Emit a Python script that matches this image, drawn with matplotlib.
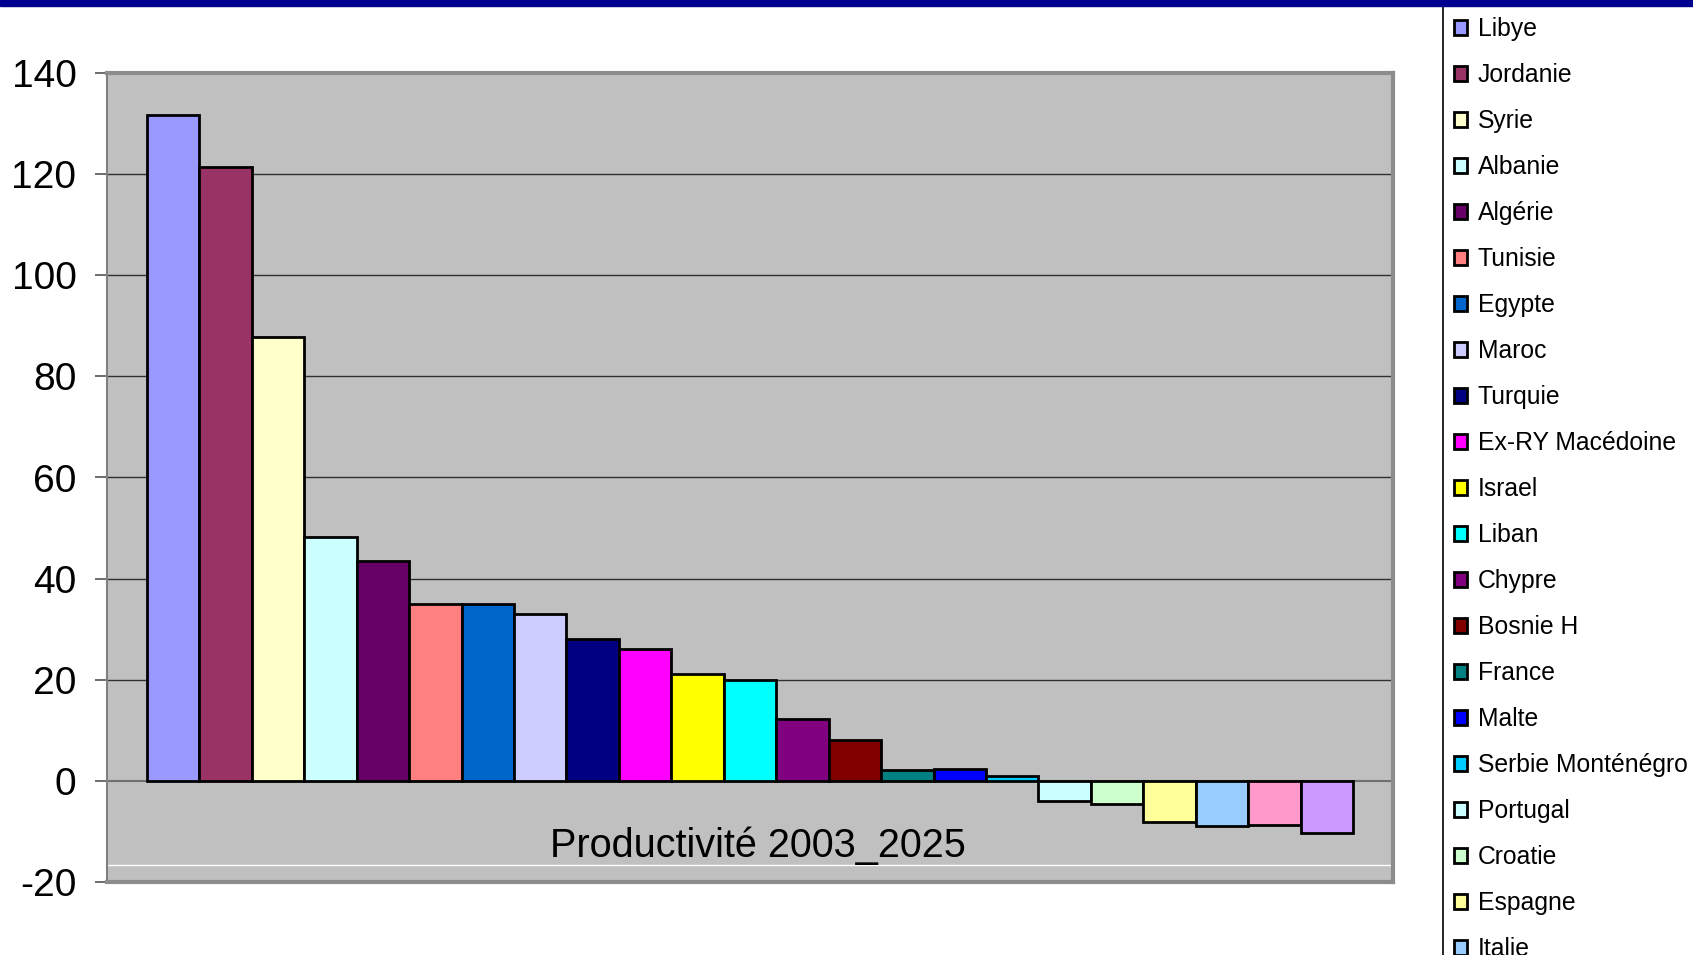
import matplotlib
matplotlib.use("Agg")
import matplotlib.pyplot as plt
from matplotlib.patches import Rectangle

# data
pays = ["Libye", "Jordanie", "Syrie", "Albanie", "Algérie", "Tunisie", "Egypte",
        "Maroc", "Turquie", "Ex-RY Macédoine", "Israel", "Liban", "Chypre",
        "Bosnie H", "France", "Malte", "Serbie Monténégro", "Portugal", "Croatie",
        "Espagne", "Italie", "Grèce", "Slovénie"]
productivite = [131.7, 121.4, 87.8, 48.3, 43.4, 35.0, 35.0, 33.0, 28.1, 26.1,
                21.2, 19.9, 12.2, 8.0, 2.2, 2.4, 0.9, -4.0, -4.6, -8.1, -8.9,
                -8.8, -10.3]
couleurs = ["#9999FF", "#993366", "#FFFFCC", "#CCFFFF", "#660066", "#FF8080",
            "#0066CC", "#CCCCFF", "#000080", "#FF00FF", "#FFFF00", "#00FFFF",
            "#800080", "#800000", "#008080", "#0000FF", "#00CCFF", "#CCFFFF",
            "#CCFFCC", "#FFFF99", "#99CCFF", "#FF99CC", "#CC99FF"]
yticks = [-20, 0, 20, 40, 60, 80, 100, 120, 140]
titre = "Productivité 2003_2025"

W, H = 1693, 955
fig = plt.figure(figsize=(W / 100, H / 100), dpi=100)
ax = fig.add_axes([107 / W, 1 - 882 / H, (1393 - 107) / W, (882 - 73) / H])
ax.set_facecolor("#C0C0C0")

police = ["Liberation Sans", "DejaVu Sans"]

n = len(pays)
handles = []
for i in range(n):
    b = ax.bar(i, productivite[i], width=1.0, color=couleurs[i],
               edgecolor="black", linewidth=2.0, label=pays[i], zorder=3)
    handles.append(b)

marge = 40 / 52.5
ax.set_xlim(-0.5 - marge, n - 0.5 + marge)
ax.set_ylim(-20, 140)
ax.set_xticks([])
ax.set_yticks(yticks)
ax.set_yticklabels([str(v) for v in yticks], fontfamily=police, fontsize=28)
ax.tick_params(axis="y", length=9, width=1.2, color="#555555", pad=13)

for v in yticks[2:-1]:
    ax.axhline(v, color="#303030", linewidth=1.0, zorder=1)
ax.axhline(0, color="#707070", linewidth=1.5, zorder=2)
ax.axhline(-16.6, color="white", linewidth=1.0, zorder=1)

for s in ["top", "right", "bottom"]:
    ax.spines[s].set_color("#8C8C8C")
    ax.spines[s].set_linewidth(3)
ax.spines["left"].set_color("#808080")
ax.spines["left"].set_linewidth(1.5)

ax.text(0.506, 0.0445, titre, transform=ax.transAxes, ha="center", va="center",
        fontfamily=police, fontsize=28.5, zorder=4)

leg = fig.legend(handles=handles, loc="upper left",
                 bbox_to_anchor=(1443 / W, 1 - 6 / H), borderaxespad=0,
                 prop={"family": police, "size": 17.8},
                 handlelength=0.53, handleheight=0.53, handletextpad=0.42,
                 labelspacing=0.89, borderpad=0.45, fancybox=False,
                 framealpha=1, edgecolor="black", facecolor="white")
leg.get_frame().set_linewidth(1.2)

fig.add_artist(Rectangle((0, 1 - 6 / H), 1, 6 / H, transform=fig.transFigure,
                         color="#000090", zorder=10))

fig.savefig("out.png", dpi=100)
